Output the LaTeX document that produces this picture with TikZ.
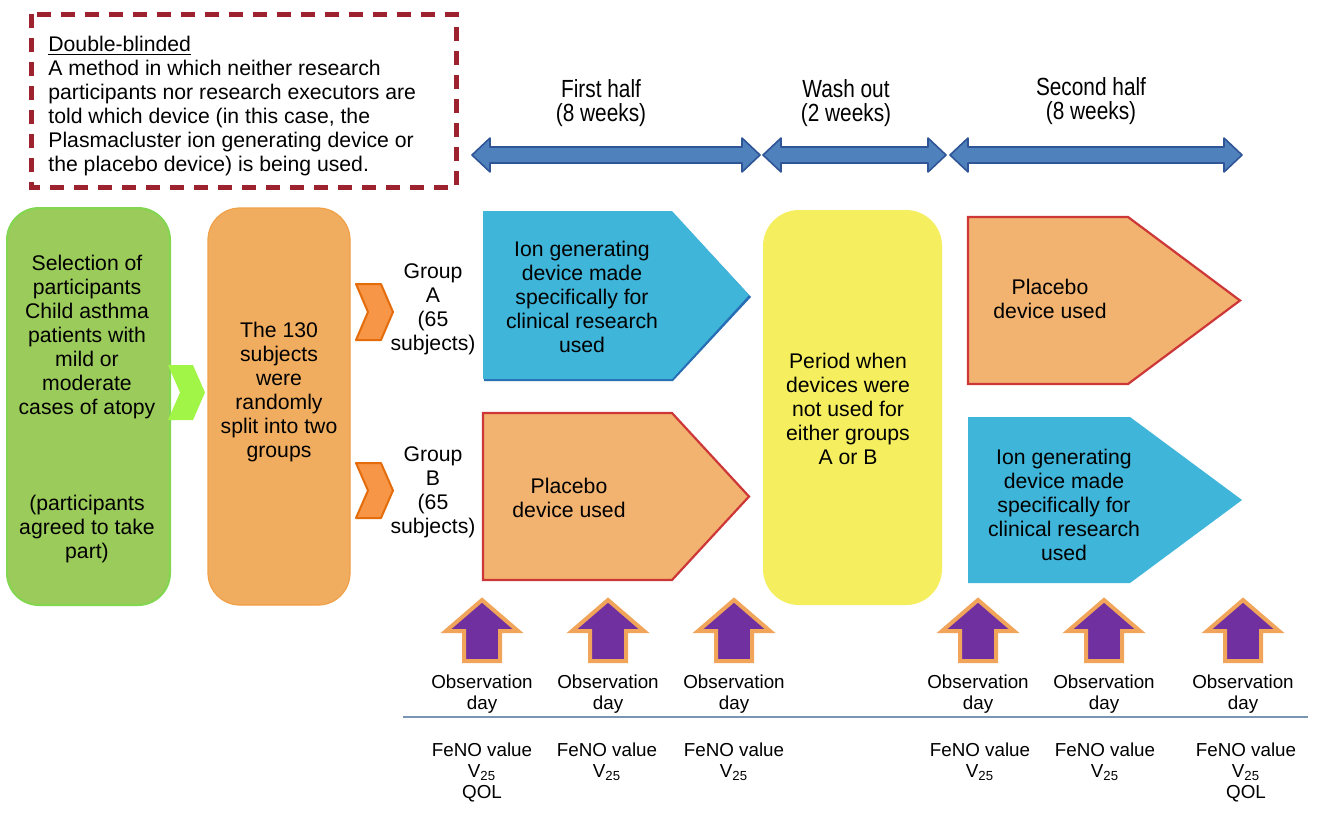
\documentclass[tikz,border=0pt]{standalone}
\usepackage{fontspec}
\setmainfont{Liberation Sans}
\newfontfamily\narrowfont{Liberation Sans}[FakeStretch=0.84]
\definecolor{dashred}{RGB}{156,35,45}
\definecolor{boxgreen}{RGB}{155,203,91}
\definecolor{boxgreenedge}{RGB}{130,214,80}
\definecolor{lime}{RGB}{160,245,70}
\definecolor{boxorange}{RGB}{241,173,95}
\definecolor{boxorangeedge}{RGB}{240,160,70}
\definecolor{chevorange}{RGB}{247,150,70}
\definecolor{chevedge}{RGB}{228,108,10}
\definecolor{devblue}{RGB}{63,181,217}
\definecolor{devbluedark}{RGB}{40,110,180}
\definecolor{placebo}{RGB}{242,178,112}
\definecolor{placeboedge}{RGB}{205,55,55}
\definecolor{washyellow}{RGB}{245,239,95}
\definecolor{tlblue}{RGB}{79,129,189}
\definecolor{tlblueedge}{RGB}{47,85,151}
\definecolor{obspurple}{RGB}{112,48,160}
\definecolor{obsorange}{RGB}{240,165,90}
\definecolor{rulecol}{RGB}{120,150,180}
\tikzset{
  txt/.style={font=\fontsize{10.6}{12}\selectfont, align=center, inner sep=0pt},
  ntxt/.style={font=\narrowfont\fontsize{12.4}{12.2}\selectfont, align=center, inner sep=0pt},
  obstxt/.style={font=\fontsize{9.4}{10.6}\selectfont, align=center, inner sep=0pt},
  dblarrow/.style={fill=tlblue, draw=tlblueedge, line width=0.8pt, line join=round},
  obsarrow/.style={fill=obspurple, draw=obsorange, line width=2pt, line join=miter},
  pentblue/.style={fill=devblue},
  pentplacebo/.style={fill=placebo, draw=placeboedge, line width=1.1pt},
  chevA/.style={fill=chevorange, draw=chevedge, line width=1pt, line join=round},
}
\newcommand{\dblarr}[3]{% x1, x2, yc
  \path[dblarrow] (#1,#3) -- ({#1+18},{#3-17}) -- ({#1+18},{#3-8}) -- ({#2-18},{#3-8})
    -- ({#2-18},{#3-17}) -- (#2,#3) -- ({#2-18},{#3+17}) -- ({#2-18},{#3+8})
    -- ({#1+18},{#3+8}) -- ({#1+18},{#3+17}) -- cycle;}
\newcommand{\pentpath}[6]{% x1,y1,xtip,y2,xpoint,style
  \path[#6] (#1,#2) -- (#5,#2) -- (#3,{(#2+#4)/2}) -- (#5,#4) -- (#1,#4) -- cycle;}
\newcommand{\uparr}[1]{% cx
  \path[obsarrow] (#1,600) -- ({#1+36},631) -- ({#1+18},631) -- ({#1+18},661)
    -- ({#1-18},661) -- ({#1-18},631) -- ({#1-36},631) -- cycle;}
\newcommand{\chev}[4]{% x, ytop, ybot, style
  \path[#4] (#1,#2) -- ({#1+25},#2) -- ({#1+37},{(#2+#3)/2}) -- ({#1+25},#3)
    -- (#1,#3) -- ({#1+12},{(#2+#3)/2}) -- cycle;}
\begin{document}
\begin{tikzpicture}[x=0.5pt,y=-0.5pt]
\useasboundingbox (0,0) rectangle (1320,826);
\fill[white] (0,0) rectangle (1320,826);

% definition box
\draw[dashred, line width=2.5pt, dash pattern=on 7pt off 5pt] (31,14) rectangle (456,187);
\node[txt, anchor=north west, align=left] (defn) at (48,36)
  {\underline{Double-blinded}\\A method in which neither research\\participants nor research executors are\\told which device (in this case, the\\Plasmacluster ion generating device or\\the placebo device) is being used.};

% timeline arrows
\dblarr{472}{760}{155}
\dblarr{763}{946}{155}
\dblarr{950}{1242}{155}
\node[ntxt] (first) at (601,103) {First half\\(8 weeks)};
\node[ntxt] (wash) at (846,103) {Wash out\\(2 weeks)};
\node[ntxt] (second) at (1091,101) {Second half\\(8 weeks)};

% green selection box
\path[fill=boxgreen, draw=boxgreenedge, line width=1pt, rounded corners=16pt] (7,208) rectangle (170,605);
\chev{168}{365}{420}{fill=lime}
\node[txt] (sel) at (87,337) {Selection of\\participants\\Child asthma\\patients with\\mild or\\moderate\\cases of atopy};
\node[txt] (agree) at (87,529) {(participants\\agreed to take\\part)};

% orange split box
\path[fill=boxorange, draw=boxorangeedge, line width=0.6pt, rounded corners=16pt] (208,208) rectangle (350,605);
\node[txt] (split) at (279,392) {The 130\\subjects\\were\\randomly\\split into two\\groups};
\chev{356}{284}{340}{chevA}
\chev{356}{463}{518}{chevA}
\node[txt] (grpA) at (433,309) {Group\\A\\(65\\subjects)};
\node[txt] (grpB) at (433,492) {Group\\B\\(65\\subjects)};

% first half devices
\pentpath{484}{213}{751}{381}{673}{fill=devbluedark}
\pentpath{483}{211}{749}{379}{672}{pentblue}
\node[txt] (ionA) at (582,297) {Ion generating\\device made\\specifically for\\clinical research\\used};
\pentpath{483}{413}{749}{580}{672}{pentplacebo}
\node[txt] (placB) at (569,498) {Placebo\\device used};

% wash out
\path[fill=washyellow, rounded corners=18pt] (763,210) rectangle (942,605);
\node[txt] (period) at (848,409) {Period when\\devices were\\not used for\\either groups\\A or B};

% second half devices
\pentpath{968}{217}{1240}{384}{1128}{pentplacebo}
\node[txt] (placA) at (1050,299) {Placebo\\device used};
\pentpath{968}{417}{1242}{583}{1130}{pentblue}
\node[txt] (ionB) at (1064,505) {Ion generating\\device made\\specifically for\\clinical research\\used};

% observation arrows
\foreach \cx/\nm in {482/o1,608/o2,734/o3,978/o4,1104/o5,1243/o6}{
  \uparr{\cx}
  \node[obstxt] (\nm) at (\cx,694) {Observation\\day};
}
\coordinate (ruleL) at (403,717);
\coordinate (ruleR) at (1308,717);
\draw[rulecol, line width=1.1pt] (ruleL) -- (ruleR);

\node[obstxt, anchor=north] (f1) at (482,742) {FeNO value\\V\textsubscript{25}\\QOL};
\node[obstxt, anchor=north] (f2) at (607,742) {FeNO value\\V\textsubscript{25}};
\node[obstxt, anchor=north] (f3) at (734,742) {FeNO value\\V\textsubscript{25}};
\node[obstxt, anchor=north] (f4) at (980,742) {FeNO value\\V\textsubscript{25}};
\node[obstxt, anchor=north] (f5) at (1105,742) {FeNO value\\V\textsubscript{25}};
\node[obstxt, anchor=north] (f6) at (1246,742) {FeNO value\\V\textsubscript{25}\\QOL};
\end{tikzpicture}
\end{document}
